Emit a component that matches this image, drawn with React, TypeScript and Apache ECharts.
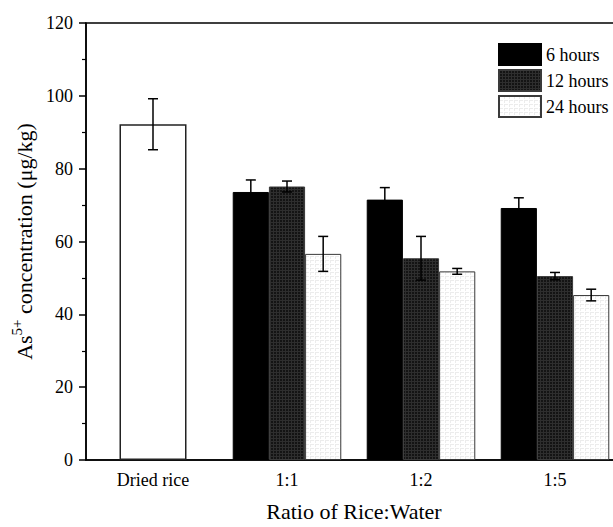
import React, { useEffect, useRef } from "react";
import * as echarts from "echarts";

const categories = ["Dried rice", "1:1", "1:2", "1:5"];
const seriesNames = ["6 hours", "12 hours", "24 hours"];
const driedMean = [92.2];
const driedErr = [7.0];
const h6Mean = [73.6, 71.5, 69.2];
const h6Err = [3.3, 3.3, 2.8];
const h12Mean = [75.1, 55.4, 50.5];
const h12Err = [1.5, 6.0, 1.0];
const h24Mean = [56.6, 51.8, 45.3];
const h24Err = [4.8, 0.8, 1.6];
const yTicks = { min: 0, max: 120, interval: 20 };

const FONT = "Liberation Serif";

function makePattern(w: number, h: number, base: string, line: string, dark: boolean) {
  const c = document.createElement("canvas");
  c.width = w;
  c.height = h;
  const ctx = c.getContext("2d")!;
  ctx.fillStyle = base;
  ctx.fillRect(0, 0, w, h);
  ctx.fillStyle = line;
  if (dark) {
    ctx.fillRect(0, 0, w, 1);
    ctx.fillRect(0, 0, 1, h);
  } else {
    ctx.fillRect(0, 0, w - 1, 1);
    ctx.fillRect(0, 0, 1, h - 1);
  }
  return { image: c, repeat: "repeat", imageWidth: w, imageHeight: h } as any;
}

export default function App() {
  const ref = useRef<HTMLDivElement>(null);
  useEffect(() => {
    if (!ref.current) return;
    const chart = echarts.init(ref.current, undefined, { renderer: "svg" });
    const p12 = makePattern(3, 3, "#141414", "#2e2e2e", true);
    const p24 = makePattern(5, 4, "#ffffff", "#ececec", false);
    const colors = ["#000000", p12, p24];
    const groupMeans = [h6Mean, h12Mean, h24Mean];
    const groupErrs = [h6Err, h12Err, h24Err];
    const barFrac = 0.27;

    const errData: any[] = [];
    driedMean.forEach((m, j) => errData.push([j, m, driedErr[j], -1]));
    groupMeans.forEach((arr, i) =>
      arr.forEach((m, j) => errData.push([j + 1, m, groupErrs[i][j], i]))
    );

    const barSeries = seriesNames.map((name, i) => ({
      name,
      type: "bar",
      xAxisIndex: 0,
      barWidth: barFrac * 100 + "%",
      barGap: "0%",
      data: ["-", ...groupMeans[i]],
      itemStyle: {
        color: colors[i],
        borderColor: i === 0 ? "#000" : "#3a3a3a",
        borderWidth: 1,
      },
    }));

    chart.setOption({
      animation: false,
      legend: {
        data: seriesNames,
        orient: "vertical",
        left: 493,
        top: 38,
        itemWidth: 42,
        itemHeight: 21,
        itemGap: 3,
        icon: "rect",
        textStyle: { fontFamily: FONT, fontSize: 18, color: "#000" },
      },
      grid: {
        left: 86,
        top: 23,
        width: 536,
        height: 442,
        show: true,
        borderColor: "#000",
        borderWidth: 1.5,
        containLabel: false,
      },
      xAxis: [
        {
          type: "category",
          data: categories,
          axisLine: { lineStyle: { color: "#000", width: 1.5 } },
          axisTick: { show: false },
          axisLabel: { fontFamily: FONT, fontSize: 18, color: "#000", margin: 11 },
          name: "Ratio of Rice:Water",
          nameLocation: "middle",
          nameGap: 40,
          nameTextStyle: { fontFamily: FONT, fontSize: 22, color: "#000" },
        },
        {
          type: "category",
          data: categories,
          show: false,
          position: "bottom",
        },
      ],
      yAxis: {
        type: "value",
        min: yTicks.min,
        max: yTicks.max,
        interval: yTicks.interval,
        axisLine: { show: true, lineStyle: { color: "#000", width: 1.5 } },
        axisTick: { show: true, length: 7, lineStyle: { color: "#000", width: 1.5 } },
        minorTick: { show: true, splitNumber: 2, length: 4, lineStyle: { color: "#000", width: 1.2 } },
        splitLine: { show: false },
        axisLabel: { fontFamily: FONT, fontSize: 18, color: "#000", margin: 13 },
        name: "{a|As}{s|5+}{a| concentration (μg/kg)}",
        nameLocation: "middle",
        nameGap: 48,
        nameRotate: 90,
        nameTextStyle: {
          fontFamily: FONT,
          fontSize: 22,
          color: "#000",
          rich: {
            a: { fontFamily: FONT, fontSize: 22, color: "#000", lineHeight: 26, verticalAlign: "bottom" },
            s: { fontFamily: FONT, fontSize: 15, color: "#000", lineHeight: 26, verticalAlign: "top", padding: [0, 0, 8, 0] },
          },
        },
      },
      series: [
        {
          name: "Dried rice",
          type: "bar",
          xAxisIndex: 1,
          barWidth: "50%",
          data: [...driedMean, "-", "-", "-"],
          itemStyle: { color: "#fff", borderColor: "#222", borderWidth: 1.5 },
        },
        ...barSeries,
        {
          type: "custom",
          xAxisIndex: 0,
          z: 10,
          data: errData,
          renderItem: (params: any, api: any) => {
            const j = api.value(0);
            const m = api.value(1);
            const e = api.value(2);
            const i = api.value(3);
            const band = api.size([1, 0])[0];
            const off = i < 0 ? 0 : (i - 1) * band * barFrac;
            const top = api.coord([j, m + e]);
            const bot = api.coord([j, m - e]);
            const x = top[0] + off;
            const cap = 5;
            const st = { stroke: "#000", lineWidth: 1.5 };
            return {
              type: "group",
              children: [
                { type: "line", shape: { x1: x, y1: top[1], x2: x, y2: bot[1] }, style: st },
                { type: "line", shape: { x1: x - cap, y1: top[1], x2: x + cap, y2: top[1] }, style: st },
                { type: "line", shape: { x1: x - cap, y1: bot[1], x2: x + cap, y2: bot[1] }, style: st },
              ],
            };
          },
        },
      ],
    });
    return () => chart.dispose();
  }, []);
  return (
    <div
      style={{ position: "absolute", left: 0, top: 0, width: 613, height: 527, overflow: "hidden" }}
    >
      <div ref={ref} style={{ width: 640, height: 527 }} />
    </div>
  );
}
